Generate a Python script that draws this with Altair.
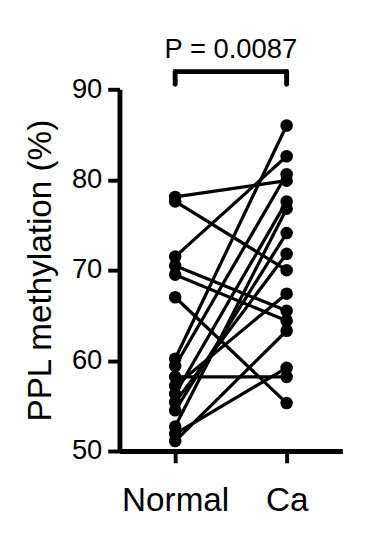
import altair as alt
import pandas as pd

groups = ["Normal", "Ca"]
normal_vals = [78.1, 77.6, 71.5, 70.5, 69.5, 67.0, 60.2, 59.4, 58.2, 57.2, 56.3, 55.4, 54.5, 52.7, 51.9, 51.1]
ca_vals = [79.9, 70.0, 82.6, 65.5, 64.4, 55.3, 86.0, 80.6, 58.2, 67.4, 77.6, 71.8, 74.1, 76.8, 59.2, 63.3]
p_label = "P = 0.0087"
y_ticks = [50, 60, 70, 80, 90]

rows = []
for i, (a, b) in enumerate(zip(normal_vals, ca_vals)):
    rows.append({"pair": i, "g": 0, "v": a})
    rows.append({"pair": i, "g": 1, "v": b})
df = pd.DataFrame(rows)

FONT = "Liberation Sans"

xscale = alt.Scale(domain=[-0.5, 1.5], nice=False, zero=False)
yscale = alt.Scale(domain=[50, 90], nice=False, zero=False)

xaxis = alt.Axis(values=[0, 1], labelExpr="datum.value == 0 ? 'Normal' : 'Ca'",
                 title=None, grid=False, tickSize=12, tickWidth=4, domainWidth=5,
                 domainColor="black", tickColor="black", labelFontSize=34,
                 labelFont=FONT, labelColor="black", labelPadding=22)
yaxis = alt.Axis(values=y_ticks, title="PPL methylation (%)", grid=False, tickSize=12,
                 tickWidth=4, domainWidth=5, domainColor="black", tickColor="black",
                 labelFontSize=28, labelFont=FONT, labelColor="black", labelPadding=6,
                 titleFontSize=34, titleFont=FONT, titleFontWeight="normal",
                 titleColor="black", titlePadding=14)

base = alt.Chart(df)
lines = base.mark_line(color="black", strokeWidth=3.3).encode(
    x=alt.X("g:Q", scale=xscale, axis=xaxis),
    y=alt.Y("v:Q", scale=yscale, axis=yaxis),
    detail="pair:N",
)
points = base.mark_circle(color="black", size=165, opacity=1).encode(
    x=alt.X("g:Q", scale=xscale),
    y=alt.Y("v:Q", scale=yscale),
)

bracket_top = 91.95
bracket_tip = 90.55
br_h = pd.DataFrame({"x": [0], "x2": [1], "y": [bracket_top]})
br_v = pd.DataFrame({"x": [0, 1], "y": [bracket_top, bracket_top], "y2": [bracket_tip, bracket_tip]})
bh = alt.Chart(br_h).mark_rule(color="black", strokeWidth=5, strokeCap="round").encode(
    x=alt.X("x:Q", scale=xscale), x2="x2:Q", y=alt.Y("y:Q", scale=yscale))
bv = alt.Chart(br_v).mark_rule(color="black", strokeWidth=5, strokeCap="round").encode(
    x=alt.X("x:Q", scale=xscale), y=alt.Y("y:Q", scale=yscale), y2="y2:Q")

ptxt = alt.Chart(pd.DataFrame({"x": [0.5], "y": [93.46], "t": [p_label]})).mark_text(
    font=FONT, fontSize=28, color="black", baseline="alphabetic", align="center"
).encode(x=alt.X("x:Q", scale=xscale), y=alt.Y("y:Q", scale=yscale), text="t:N")

chart = alt.layer(lines, points, bh, bv, ptxt).properties(
    width=228, height=370,
    autosize=alt.AutoSizeParams(type="none"),
    padding={"left": 114, "top": 77, "right": 16, "bottom": 91},
    background="white",
).configure_view(stroke=None)

chart.save("out.html", embed_options={"renderer": "svg", "actions": False})
